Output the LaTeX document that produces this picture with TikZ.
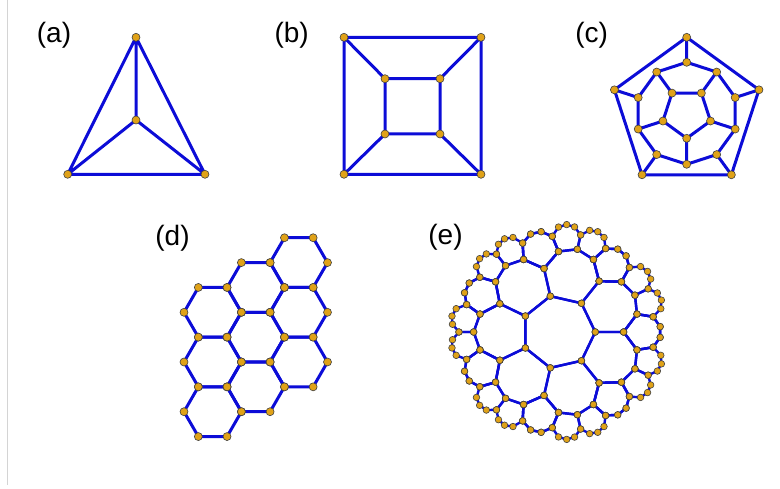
\documentclass[tikz,border=0pt]{standalone}
\usepackage{fontspec}
\setmainfont{Liberation Sans}
\definecolor{edgeblue}{RGB}{12,12,215}
\definecolor{dotgold}{RGB}{224,162,24}
\definecolor{rulegray}{RGB}{212,212,212}
\tikzset{
  edge/.style={edgeblue, line width=3pt, line join=round},
  tile/.style={edgeblue, line width=2.4pt, line join=round},
  vtx/.style={circle, draw=black!75, fill=dotgold, line width=0.6pt, inner sep=0pt, minimum size=8pt},
  svtx/.style={vtx, minimum size=6.6pt},
  panel/.style={font=\fontsize{28}{30}\selectfont}
}
% {7,3} tiling in the Poincare disk: z -> (z+a)/(1+conj(a) z)
\newcommand\mob[4]{%
  \pgfmathsetmacro\mbNr{(#1)+(#3)}%
  \pgfmathsetmacro\mbNi{(#2)+(#4)}%
  \pgfmathsetmacro\mbDr{1+(#3)*(#1)+(#4)*(#2)}%
  \pgfmathsetmacro\mbDi{(#3)*(#2)-(#4)*(#1)}%
  \pgfmathsetmacro\mbDd{\mbDr*\mbDr+\mbDi*\mbDi}%
  \pgfmathsetmacro\mbX{(\mbNr*\mbDr+\mbNi*\mbDi)/\mbDd}%
  \pgfmathsetmacro\mbY{(\mbNi*\mbDr-\mbNr*\mbDi)/\mbDd}}
\newcommand\heptpts[5]{%
  \foreach \m in {0,...,6}{%
    \pgfmathsetmacro\hx{0.30074*cos(#5+360*\m/7)}%
    \pgfmathsetmacro\hy{0.30074*sin(#5+360*\m/7)}%
    \mob{\hx}{\hy}{#3}{#4}%
    \mob{\mbX}{\mbY}{#1}{#2}%
    \coordinate (hv\m) at (558.5+122.3*\mbX, 332-122.3*\mbY);
  }}
\newcommand\tiling[1]{%
  \heptpts{0}{0}{0}{0}{0}#1
  \foreach \j in {0,...,6}{%
    \pgfmathsetmacro\pa{0.49697*cos(180/7+360*\j/7)}%
    \pgfmathsetmacro\qa{0.49697*sin(180/7+360*\j/7)}%
    \heptpts{\pa}{\qa}{0}{0}{180}#1
    \foreach \k in {2,...,5}{%
      \pgfmathsetmacro\pb{0.49697*cos(180/7+360*\j/7+180+360*\k/7)}%
      \pgfmathsetmacro\qb{0.49697*sin(180/7+360*\j/7+180+360*\k/7)}%
      \heptpts{\pa}{\qa}{\pb}{\qb}{0}#1
    }}}
\begin{document}
\begin{tikzpicture}[x=1pt,y=-1pt]
\useasboundingbox (0,0) rectangle (780,489);
\draw[rulegray, line width=1.5pt] (7.5,0) -- (7.5,485);
% (a) tetrahedron
\node[panel] (la) at (54,35) {(a)};
\coordinate (a1) at (136,37.3);
\coordinate (a2) at (136,120);
\coordinate (a3) at (67.7,174.3);
\coordinate (a4) at (205,174.3);
\draw[edge] (a1) -- (a3) -- (a4) -- cycle (a1) -- (a2) (a3) -- (a2) -- (a4);
\foreach \v in {a1,a2,a3,a4} \node[vtx] (d\v) at (\v) {};
% (b) cube
\node[panel] (lb) at (291.7,35) {(b)};
\coordinate (b1) at (344,37.3);
\coordinate (b2) at (481,37.3);
\coordinate (b3) at (481,174.3);
\coordinate (b4) at (344,174.3);
\coordinate (b5) at (385,78.7);
\coordinate (b6) at (440,78.7);
\coordinate (b7) at (440,134);
\coordinate (b8) at (385,134);
\draw[edge] (b1) -- (b2) -- (b3) -- (b4) -- cycle (b5) -- (b6) -- (b7) -- (b8) -- cycle
  (b1) -- (b5) (b2) -- (b6) (b3) -- (b7) (b4) -- (b8);
\foreach \v in {1,...,8} \node[vtx] (db\v) at (b\v) {};
% (c) dodecahedron
\node[panel] (lc) at (591.7,35) {(c)};
\begin{scope}[shift={(686.7,113.3)}, yscale=-1]
\foreach \k in {0,...,4} {
  \coordinate (co\k) at (90+72*\k:76);
  \coordinate (ci\k) at (126+72*\k:25);
}
\foreach \k in {0,...,9} \coordinate (cd\k) at (90+36*\k:51);
\draw[edge] (co0) \foreach \k in {1,...,4}{-- (co\k)} -- cycle;
\draw[edge] (cd0) \foreach \k in {1,...,9}{-- (cd\k)} -- cycle;
\draw[edge] (ci0) \foreach \k in {1,...,4}{-- (ci\k)} -- cycle;
\foreach \k [evaluate=\k as \i using int(2*\k), evaluate=\k as \o using int(2*\k+1)] in {0,...,4}
  \draw[edge] (co\k) -- (cd\i) (ci\k) -- (cd\o);
\foreach \k in {0,...,4} {
  \node[vtx] (dco\k) at (co\k) {};
  \node[vtx] (dci\k) at (ci\k) {};
}
\foreach \k in {0,...,9} \node[vtx] (dcd\k) at (cd\k) {};
\end{scope}
% (d) hexagonal patch
\node[panel] (ld) at (172.5,238) {(d)};
\foreach \c in {0,1,2} \foreach \r in {0,1,2}
  \coordinate (h\c\r) at (212.7+43.05*\c, 312.3-24.85*\c+49.7*\r);
\foreach \c in {0,1,2} \foreach \r in {0,1,2}
  \draw[edge] ([shift={(0:28.7)}]h\c\r) \foreach \a in {60,120,...,300}{-- ([shift={(\a:28.7)}]h\c\r)} -- cycle;
\foreach \c in {0,1,2} \foreach \r in {0,1,2} \foreach \a in {0,60,...,300}
  \node[vtx] (dh\c\r\a) at ([shift={(\a:28.7)}]h\c\r) {};
% (e) heptagonal {7,3}
\node[panel] (le) at (445.5,237) {(e)};
\tiling{\draw[tile] (hv0) \foreach \m in {1,...,6}{-- (hv\m)} -- cycle;}
\tiling{\foreach \m in {0,...,6} \node[svtx] at (hv\m) {};}
\end{tikzpicture}
\end{document}
